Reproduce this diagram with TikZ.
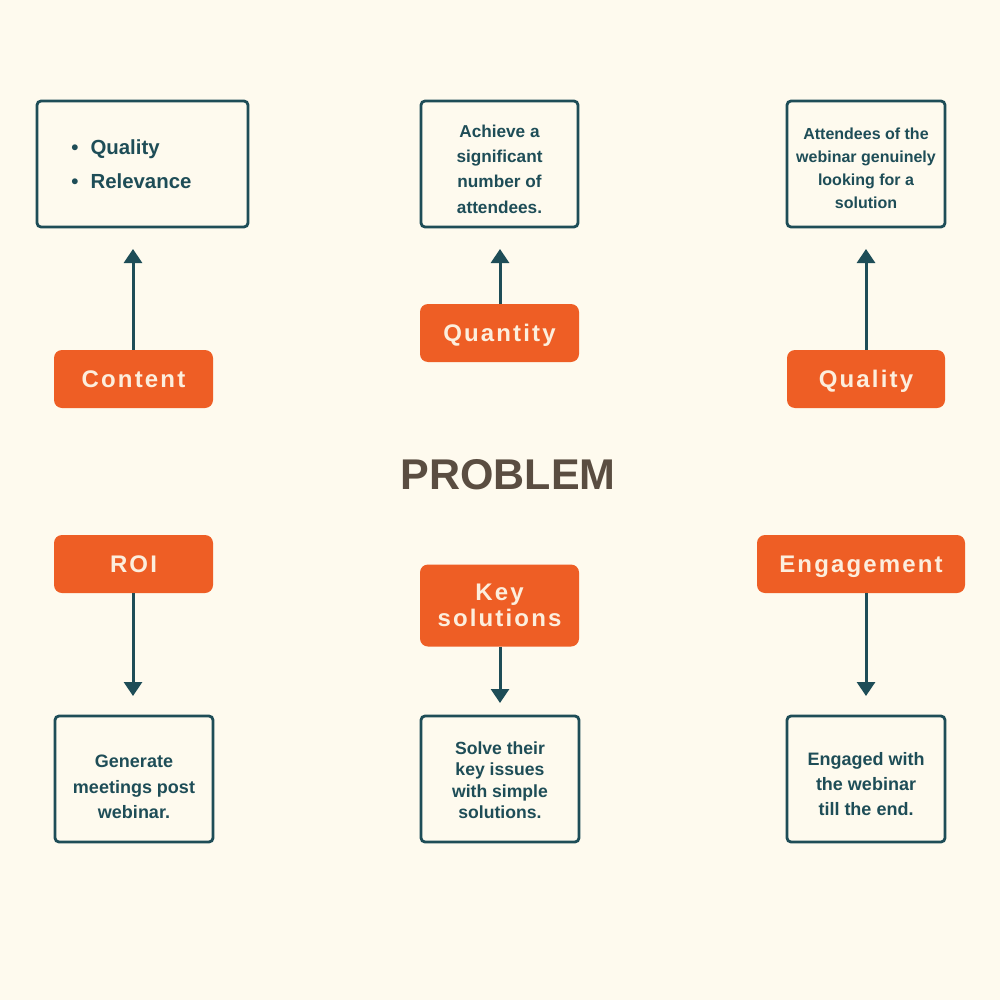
\documentclass[tikz,border=0pt]{standalone}
\usepackage{fontspec}
\setmainfont{Liberation Sans}
\newfontfamily\spacedfont[LetterSpace=9]{Liberation Sans}
\usetikzlibrary{arrows.meta}
\definecolor{bgc}{HTML}{FEFAEE}
\definecolor{teal}{HTML}{1E4D57}
\definecolor{orng}{HTML}{EE5E25}
\definecolor{cream}{HTML}{FCEEDD}
\definecolor{brn}{HTML}{5A4D41}
\begin{document}
\begin{tikzpicture}[x=0.5pt,y=-0.5pt,
  outbox/.style={draw=teal,line width=1.4pt,rounded corners=2pt,fill=bgc,inner sep=0pt,
    minimum height=63pt},
  boxtext/.style={text=teal,align=center,inner sep=0pt},
  tag/.style={fill=orng,rounded corners=4pt,inner sep=0pt,text=cream,align=center,
    font=\spacedfont\bfseries\fontsize{12}{13}\selectfont},
  onetag/.style={tag,minimum height=29pt,text height=8.6pt,text depth=0pt},
  link/.style={draw=teal,line width=1.5pt,-{Triangle[length=7pt,width=9pt]}}]
\fill[bgc] (0,0) rectangle (1000,1000);
\useasboundingbox (0,0) rectangle (1000,1000);
% top boxes
\node[outbox,minimum width=105.5pt] (b1) at (142.5,164) {};
\node[boxtext,font=\bfseries\fontsize{10.2}{17}\selectfont,anchor=west,align=left] (b1t) at (71,164)
  {\textbullet\hspace{6pt}Quality\\\textbullet\hspace{6pt}Relevance};
\node[outbox,minimum width=78.5pt] (b2) at (499.5,164) {};
\node[boxtext,font=\bfseries\fontsize{8.6}{12.7}\selectfont] (b2t) at (499.5,169)
  {Achieve a\\significant\\number of\\attendees.};
\node[outbox,minimum width=79pt] (b3) at (866,164) {};
\node[boxtext,font=\bfseries\fontsize{8}{11.5}\selectfont] (b3t) at (866,168)
  {Attendees of the\\webinar genuinely\\looking for a\\solution};
% top tags
\node[onetag,minimum width=79.5pt] (t1) at (133.5,379) {Content};
\node[onetag,minimum width=79.5pt] (t2) at (499.5,333) {Quantity};
\node[onetag,minimum width=79pt] (t3) at (866,379) {Quality};
\coordinate (a1) at (133,249);
\coordinate (a2) at (500,249);
\coordinate (a3) at (866,249);
\draw[link] (t1.north -| a1) -- (a1);
\draw[link] (t2.north -| a2) -- (a2);
\draw[link] (t3.north -| a3) -- (a3);
% center
\node[text=brn,font=\bfseries\fontsize{21.5}{24}\selectfont] (p) at (508,475) {PROBLEM};
% bottom tags
\node[onetag,minimum width=79.5pt] (t4) at (133.5,564) {ROI};
\node[tag,minimum width=79.5pt,minimum height=41pt] (t5) at (499.5,605.5) {Key\\solutions};
\node[onetag,minimum width=104pt] (t6) at (861,564) {Engagement};
\coordinate (c4) at (133,696);
\coordinate (c5) at (500,703);
\coordinate (c6) at (866,696);
\draw[link] (t4.south -| c4) -- (c4);
\draw[link] (t5.south -| c5) -- (c5);
\draw[link] (t6.south -| c6) -- (c6);
% bottom boxes
\node[outbox,minimum width=79pt] (b4) at (134,779) {};
\node[boxtext,font=\bfseries\fontsize{9}{12.7}\selectfont] (b4t) at (134,787)
  {Generate\\meetings post\\webinar.};
\node[outbox,minimum width=79pt] (b5) at (500,779) {};
\node[boxtext,font=\bfseries\fontsize{8.8}{10.7}\selectfont] (b5t) at (500,780)
  {Solve their\\key issues\\with simple\\solutions.};
\node[outbox,minimum width=79pt] (b6) at (866,779) {};
\node[boxtext,font=\bfseries\fontsize{9}{12.3}\selectfont] (b6t) at (866,784)
  {Engaged with\\the webinar\\till the end.};
\end{tikzpicture}
\end{document}
